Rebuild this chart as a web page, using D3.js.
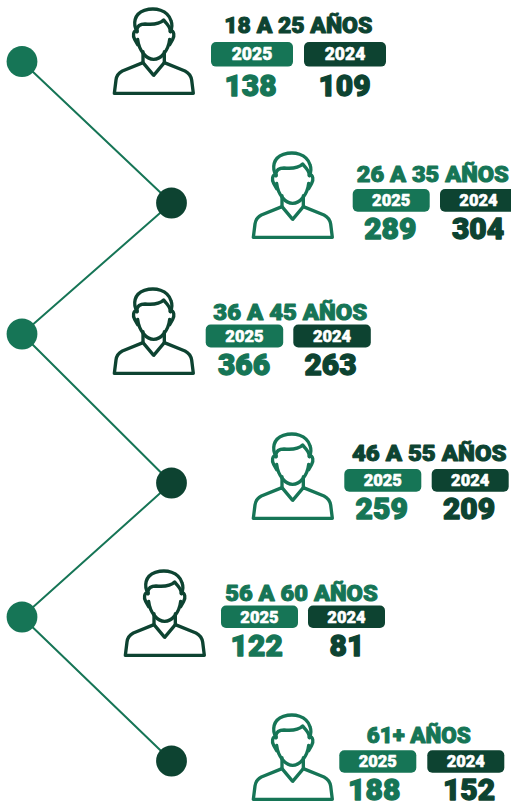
<!DOCTYPE html>
<html>
<head>
<meta charset="utf-8">
<script src="https://cdn.jsdelivr.net/npm/d3@7"></script>
<style>
	html, body { margin: 0; padding: 0; background: #fff; overflow: hidden; }
	svg { display: block; }
	text { font-family: Roboto, sans-serif; font-weight: 900; text-anchor: middle; }
</style>
</head>
<body>
<svg id="chart" width="511" height="801"></svg>
<script>
// Values
var ageGroups = [ '18 A 25 AÑOS', '26 A 35 AÑOS', '36 A 45 AÑOS', '46 A 55 AÑOS', '56 A 60 AÑOS', '61+ AÑOS' ];
var years = [ '2025', '2024' ];
var values2025 = [ 138, 289, 366, 259, 122, 188 ];
var values2024 = [ 109, 304, 263, 209, 81, 152 ];

var green = '#167556';
var dark = '#0d4331';

// Hand placed layout, the rows are not evenly spaced in the original
var nodeY = [ 61.5, 203, 334, 483, 617, 761 ];
var nodeX = [ 22, 171.5 ];
var iconLeft = [ 113, 252, 113, 252, 124, 252 ];
var iconTop = [ 8, 152, 288, 433, 570, 714 ];
var titleX = [ 298.3, 432.8, 290.3, 429.2, 301.5, 418.7 ];
var titleY = [ 33.3, 182.3, 320, 461, 601.3, 742.7 ];
var titleWidth = [ 148, 152, 154, 154.5, 152.5, 104 ];
var badge25Left = [ 211, 352.7, 205.7, 344.3, 221, 339.3 ];
var badge24Left = [ 304, 440, 293.3, 431.7, 308, 427.3 ];
var badgeTop = [ 42, 189, 324.5, 469, 605.5, 750.2 ];
var badgeWidth = [ 82, 77, 77.5, 77, 77, 77 ];
var badgeHeight = [ 24.6, 22.8, 23, 22.8, 22.4, 22.6 ];
var badgeFont = [ 17.5, 16.5, 16.5, 16.5, 16.5, 16.5 ];
var value25X = [ 250.5, 390.3, 244, 381.7, 256.7, 374.2 ];
var value24X = [ 344.5, 478, 330.5, 469, 347, 469 ];
var valueY = [ 95.7, 239, 375, 519, 656, 799.5 ];
var iconColor = [ dark, green, dark, green, dark, green ];
var titleColor = [ dark, green, green, dark, green, green ];

var svg = d3.select( '#chart' );

var y = d3.scaleOrdinal().domain( ageGroups ).range( nodeY );
var x = d3.scaleOrdinal().domain( [ 0, 1 ] ).range( nodeX );

var line = d3.line()
	.x( function ( d ) { return x( ageGroups.indexOf( d ) % 2 ); } )
	.y( function ( d ) { return y( d ); } );

svg.append( 'path' )
	.attr( 'd', line( ageGroups ) )
	.attr( 'fill', 'none' )
	.attr( 'stroke', green )
	.attr( 'stroke-width', 2 );

svg.selectAll( '.node' )
	.data( ageGroups )
	.enter()
	.append( 'circle' )
	.attr( 'class', 'node' )
	.attr( 'cx', function ( d, i ) { return x( i % 2 ); } )
	.attr( 'cy', function ( d ) { return y( d ); } )
	.attr( 'r', 15.4 )
	.attr( 'fill', function ( d, i ) { return i % 2 ? dark : green; } );

// Person icon, drawn in 3x units with its left edge at 40
var iconPaths = [
	'M42 280 L279 280 L274 240 Q271 222 254 213 L192 188 L160 226 L128 188 L66 213 Q49 222 47 240 Z',
	'M128 188 V155 M192 188 V155',
	'M112 118 C116 152 138 178 160 178 C182 178 204 152 208 118',
	'M110 92 C98 92 97 108 103 118 L112 134 M210 92 C222 92 223 108 217 118 L208 134',
	'M110 95 C98 72 100 42 132 31 C165 21 202 30 212 62 C217 76 214 88 210 95',
	'M110 95 L110 88 C112 74 124 72 134 72 C155 74 178 72 190 60 C198 72 210 78 210 95'
];

// Same colour stroke on the text, Roboto black is lighter than the original face
function thick( sel, color, width ) {
	return sel
		.attr( 'fill', color )
		.attr( 'stroke', color )
		.attr( 'stroke-width', width )
		.attr( 'stroke-linejoin', 'round' );
}

var rows = svg.selectAll( '.row' )
	.data( ageGroups )
	.enter()
	.append( 'g' )
	.attr( 'class', 'row' );

rows.each( function ( d, i ) {
	var row = d3.select( this );

	var icon = row.append( 'g' )
		.attr( 'transform', 'translate(' + ( iconLeft[i] - 38 / 3 ) + ',' + ( iconTop[i] - 24 / 3 ) + ') scale(' + ( 1 / 3 ) + ')' );
	icon.selectAll( 'path' )
		.data( iconPaths )
		.enter()
		.append( 'path' )
		.attr( 'd', function ( p ) { return p; } )
		.attr( 'fill', 'none' )
		.attr( 'stroke', iconColor[i] )
		.attr( 'stroke-width', 10 )
		.attr( 'stroke-linejoin', 'round' )
		.attr( 'stroke-linecap', 'round' );

	row.append( 'text' )
		.attr( 'x', titleX[i] )
		.attr( 'y', titleY[i] )
		.attr( 'font-size', 22.5 )
		.attr( 'textLength', titleWidth[i] )
		.attr( 'lengthAdjust', 'spacingAndGlyphs' )
		.call( thick, titleColor[i], 1 )
		.text( d );

	years.forEach( function ( year, j ) {
		var left = j === 0 ? badge25Left[i] : badge24Left[i];
		var value = j === 0 ? values2025[i] : values2024[i];
		var valueX = j === 0 ? value25X[i] : value24X[i];
		var color = j === 0 ? green : dark;

		row.append( 'rect' )
			.attr( 'x', left )
			.attr( 'y', badgeTop[i] )
			.attr( 'width', badgeWidth[i] )
			.attr( 'height', badgeHeight[i] )
			.attr( 'rx', 5 )
			.attr( 'fill', color );

		row.append( 'text' )
			.attr( 'x', left + badgeWidth[i] / 2 )
			.attr( 'y', badgeTop[i] + badgeHeight[i] / 2 + 5.8 )
			.attr( 'font-size', badgeFont[i] )
			.call( thick, '#fff', 0.5 )
			.text( year );

		row.append( 'text' )
			.attr( 'x', valueX )
			.attr( 'y', valueY[i] )
			.attr( 'font-size', 30 )
			.call( thick, color, 1.3 )
			.text( value );
	} );
} );
</script>
</body>
</html>
